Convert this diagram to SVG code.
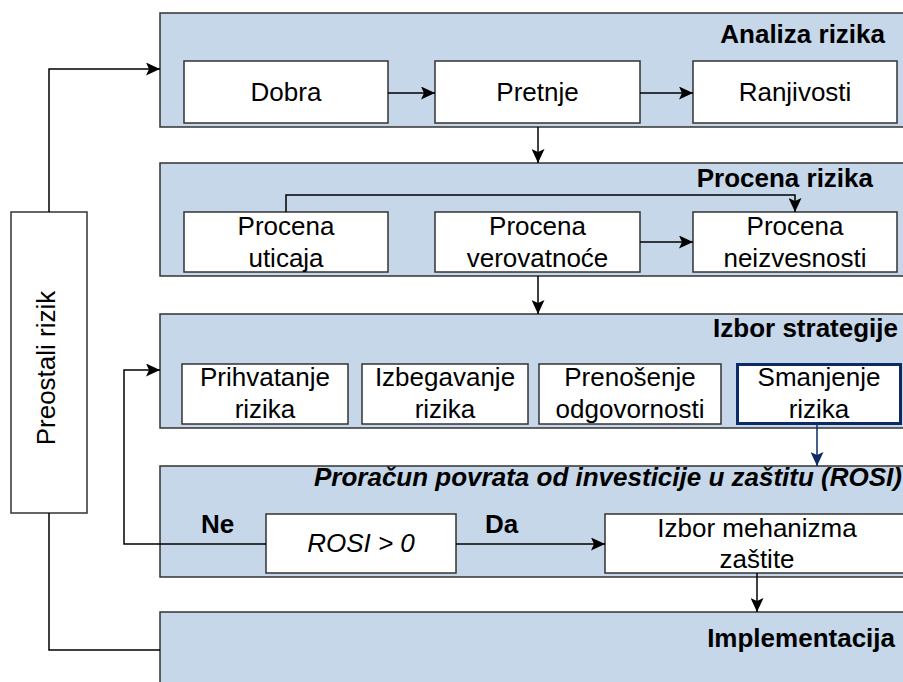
<svg xmlns="http://www.w3.org/2000/svg" width="903" height="682" viewBox="0 0 903 682">
  <style>
    .panel { fill: #C5D7E8; stroke: #333333; stroke-width: 1.5; }
    .box { fill: #FFFFFF; stroke: #333333; stroke-width: 1.5; }
    .box-hl { fill: #FFFFFF; stroke: #0B2A66; stroke-width: 3; }
    .txt { font-family: "Liberation Sans", Arial, sans-serif; font-size: 26px; fill: #000000; text-anchor: middle; }
    .title { font-family: "Liberation Sans", Arial, sans-serif; font-size: 26px; font-weight: bold; fill: #000000; text-anchor: end; }
    .lbl { font-family: "Liberation Sans", Arial, sans-serif; font-size: 26px; font-weight: bold; fill: #000000; }
    .edge { fill: none; stroke: #000000; stroke-width: 1.5; }
    .edge-blue { fill: none; stroke: #0B2A66; stroke-width: 1.5; }
  </style>
  <defs>
    <marker id="arrow" markerUnits="userSpaceOnUse" markerWidth="14" markerHeight="13" refX="14" refY="6.5" orient="auto">
      <path d="M0,0 L14,6.5 L0,13 L3,6.5 Z" fill="#000000"/>
    </marker>
    <marker id="arrow-blue" markerUnits="userSpaceOnUse" markerWidth="14" markerHeight="13" refX="14" refY="6.5" orient="auto">
      <path d="M0,0 L14,6.5 L0,13 L3,6.5 Z" fill="#0B2A66"/>
    </marker>
  </defs>

  <rect width="903" height="682" fill="#FFFFFF"/>

  <!-- Stage panels -->
  <g id="panel-analiza">
    <rect class="panel" x="160" y="13" width="760" height="114"/>
    <text class="title" x="885" y="43">Analiza rizika</text>
  </g>
  <g id="panel-procena">
    <rect class="panel" x="160" y="163" width="760" height="113"/>
    <text class="title" x="873" y="187">Procena rizika</text>
  </g>
  <g id="panel-strategija">
    <rect class="panel" x="160" y="314" width="760" height="114"/>
    <text class="title" x="898" y="337">Izbor strategije</text>
  </g>
  <g id="panel-rosi">
    <rect class="panel" x="160" y="466" width="760" height="111"/>
    <text class="title" x="902" y="486" font-style="italic">Proračun povrata od investicije u zaštitu (ROSI)</text>
  </g>
  <g id="panel-implementacija">
    <rect class="panel" x="160" y="612" width="760" height="90"/>
    <text class="title" x="895" y="647">Implementacija</text>
  </g>

  <!-- Side node -->
  <g id="preostali-rizik">
    <rect class="box" x="11" y="212" width="76" height="301"/>
    <text class="txt" transform="translate(55,368) rotate(-90)">Preostali rizik</text>
  </g>

  <!-- Analiza rizika -->
  <g id="dobra">
    <rect class="box" x="184" y="61" width="204" height="62"/>
    <text class="txt" x="286" y="101">Dobra</text>
  </g>
  <g id="pretnje">
    <rect class="box" x="435" y="61" width="205" height="62"/>
    <text class="txt" x="537.5" y="101">Pretnje</text>
  </g>
  <g id="ranjivosti">
    <rect class="box" x="693" y="61" width="204" height="62"/>
    <text class="txt" x="795" y="101">Ranjivosti</text>
  </g>

  <!-- Procena rizika -->
  <g id="procena-uticaja">
    <rect class="box" x="184" y="212" width="204" height="60"/>
    <text class="txt" x="286" y="235">Procena</text>
    <text class="txt" x="286" y="267">uticaja</text>
  </g>
  <g id="procena-verovatnoce">
    <rect class="box" x="435" y="212" width="205" height="60"/>
    <text class="txt" x="537.5" y="235">Procena</text>
    <text class="txt" x="537.5" y="267">verovatnoće</text>
  </g>
  <g id="procena-neizvesnosti">
    <rect class="box" x="693" y="212" width="204" height="60"/>
    <text class="txt" x="795" y="235">Procena</text>
    <text class="txt" x="795" y="267">neizvesnosti</text>
  </g>

  <!-- Izbor strategije -->
  <g id="prihvatanje">
    <rect class="box" x="182" y="364" width="166" height="60"/>
    <text class="txt" x="265" y="386">Prihvatanje</text>
    <text class="txt" x="265" y="418">rizika</text>
  </g>
  <g id="izbegavanje">
    <rect class="box" x="362" y="364" width="166" height="60"/>
    <text class="txt" x="445" y="386">Izbegavanje</text>
    <text class="txt" x="445" y="418">rizika</text>
  </g>
  <g id="prenosenje">
    <rect class="box" x="539" y="364" width="182" height="60"/>
    <text class="txt" x="630" y="386">Prenošenje</text>
    <text class="txt" x="630" y="418">odgovornosti</text>
  </g>
  <g id="smanjenje">
    <rect class="box-hl" x="737.5" y="364.5" width="163" height="59"/>
    <text class="txt" x="819" y="386">Smanjenje</text>
    <text class="txt" x="819" y="418">rizika</text>
  </g>

  <!-- ROSI -->
  <g id="rosi-uslov">
    <rect class="box" x="266" y="514" width="190" height="59"/>
    <text class="txt" x="361" y="552" font-style="italic">ROSI &gt; 0</text>
  </g>
  <g id="izbor-mehanizma">
    <rect class="box" x="605" y="514" width="304" height="59"/>
    <text class="txt" x="757" y="537">Izbor mehanizma</text>
    <text class="txt" x="757" y="568">zaštite</text>
  </g>

  <!-- Connectors -->
  <g id="connectors">
    <path class="edge" d="M388,93 H435" marker-end="url(#arrow)"/>
    <path class="edge" d="M640,93 H693" marker-end="url(#arrow)"/>
    <path class="edge" d="M538,127 V163" marker-end="url(#arrow)"/>
    <path class="edge" d="M286,212 V195 H795 V212" marker-end="url(#arrow)"/>
    <path class="edge" d="M640,242 H693" marker-end="url(#arrow)"/>
    <path class="edge" d="M538,276 V314" marker-end="url(#arrow)"/>
    <path class="edge-blue" d="M817,425 V466" marker-end="url(#arrow-blue)"/>
    <path class="edge" d="M456,544 H605" marker-end="url(#arrow)"/>
    <path class="edge" d="M266,544 H124 V370 H160" marker-end="url(#arrow)"/>
    <path class="edge" d="M757,573 V612" marker-end="url(#arrow)"/>
    <path class="edge" d="M49,212 V69 H160" marker-end="url(#arrow)"/>
    <path class="edge" d="M49,513 V650 H160"/>
    <text class="lbl" x="201" y="533">Ne</text>
    <text class="lbl" x="485" y="533">Da</text>
  </g>
</svg>
